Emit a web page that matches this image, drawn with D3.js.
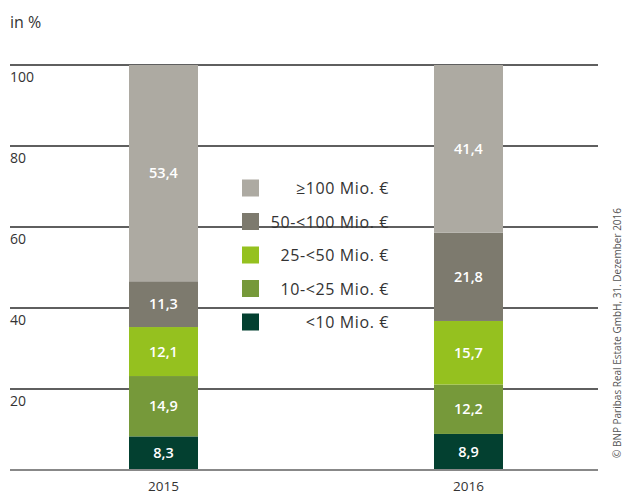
<!DOCTYPE html>
<html>
<head>
<meta charset="utf-8">
<script src="https://cdn.jsdelivr.net/npm/d3@7"></script>
<style>
  html, body { margin: 0; padding: 0; background: #fff; }
  svg { display: block; font-family: "Open Sans", "Noto Sans", sans-serif; }
</style>
</head>
<body>
<svg id="chart" width="624" height="495"></svg>
<script>
// Volume classes, bottom to top
const classes = ["<10 Mio. €", "10-<25 Mio. €", "25-<50 Mio. €", "50-<100 Mio. €", "≥100 Mio. €"];
const classColors = ["#034030", "#76993A", "#95C11F", "#7D7A6E", "#ADAAA2"];
const years = ["2015", "2016"];
const share2015 = [8.3, 14.9, 12.1, 11.3, 53.4];
const share2016 = [8.9, 12.2, 15.7, 21.8, 41.4];
const yTicks = [20, 40, 60, 80, 100];

(function () {
const svg = d3.select("#chart");
const plotLeft = 10, plotRight = 598, plotTop = 65, plotBottom = 470;
const barWidth = 69;

const x = d3.scalePoint().domain(years).range([163.5, 468.5]);
const y = d3.scaleLinear().domain([0, 100]).range([plotBottom, plotTop]);

// Horizontal grid lines with labels below each line
const grid = svg.append("g");
grid.selectAll("line").data(yTicks).join("line")
  .attr("x1", plotLeft).attr("x2", plotRight)
  .attr("y1", d => y(d)).attr("y2", d => y(d))
  .attr("stroke", "#2a2a2a").attr("stroke-width", 1.3);
grid.selectAll("text").data(yTicks).join("text")
  .attr("x", plotLeft).attr("y", d => y(d) + 17)
  .attr("font-size", 14).attr("fill", "#333")
  .text(d => d);

svg.append("text").attr("x", plotLeft).attr("y", 28)
  .attr("font-size", 16).attr("fill", "#333").text("in %");

// Stacked bars
const rows = years.map((yr, i) => {
  const vals = i === 0 ? share2015 : share2016;
  const o = { year: yr };
  classes.forEach((c, j) => o[c] = vals[j]);
  return o;
});
const stack = d3.stack().keys(classes)(rows);

const layers = svg.append("g").selectAll("g").data(stack).join("g")
  .attr("fill", (d, i) => classColors[i]);
layers.selectAll("rect").data(d => d).join("rect")
  .attr("x", d => x(d.data.year) - barWidth / 2)
  .attr("width", barWidth)
  .attr("y", d => y(d[1]))
  .attr("height", d => y(d[0]) - y(d[1]));

const labels = svg.append("g").selectAll("g").data(stack).join("g");
labels.selectAll("text").data(d => d.map(s => ({ s, key: d.key }))).join("text")
  .attr("x", d => x(d.s.data.year))
  .attr("y", d => y((d.s[0] + d.s[1]) / 2) + 5)
  .attr("text-anchor", "middle")
  .attr("font-size", 14.5).attr("font-weight", 600).attr("fill", "#fff")
  .text(d => d3.format(".1f")(d.s.data[d.key]).replace(".", ","));

// Baseline
svg.append("line").attr("x1", plotLeft).attr("x2", plotRight)
  .attr("y1", plotBottom).attr("y2", plotBottom)
  .attr("stroke", "#888").attr("stroke-width", 2);

// Year labels
svg.append("g").selectAll("text").data(years).join("text")
  .attr("x", d => x(d)).attr("y", 491)
  .attr("text-anchor", "middle").attr("font-size", 13.5).attr("fill", "#333")
  .text(d => d);

// Legend, top class first
const legendOrder = classes.map((c, i) => ({ c, color: classColors[i] })).reverse();
const lg = svg.append("g").selectAll("g").data(legendOrder).join("g")
  .attr("transform", (d, i) => `translate(0, ${188 + i * 33.5})`);
lg.append("rect").attr("x", 242).attr("y", -8.5).attr("width", 17).attr("height", 17)
  .attr("fill", d => d.color);
lg.append("text").attr("x", 389).attr("y", 6).attr("text-anchor", "end")
  .attr("font-size", 16).attr("letter-spacing", 0.6).attr("fill", "#333").text(d => d.c);

// Source note
svg.append("text")
  .attr("transform", "translate(621, 333) rotate(-90)")
  .attr("text-anchor", "middle").attr("font-size", 10).attr("fill", "#555")
  .text("© BNP Paribas Real Estate GmbH, 31. Dezember 2016");
})();
</script>
</body>
</html>
